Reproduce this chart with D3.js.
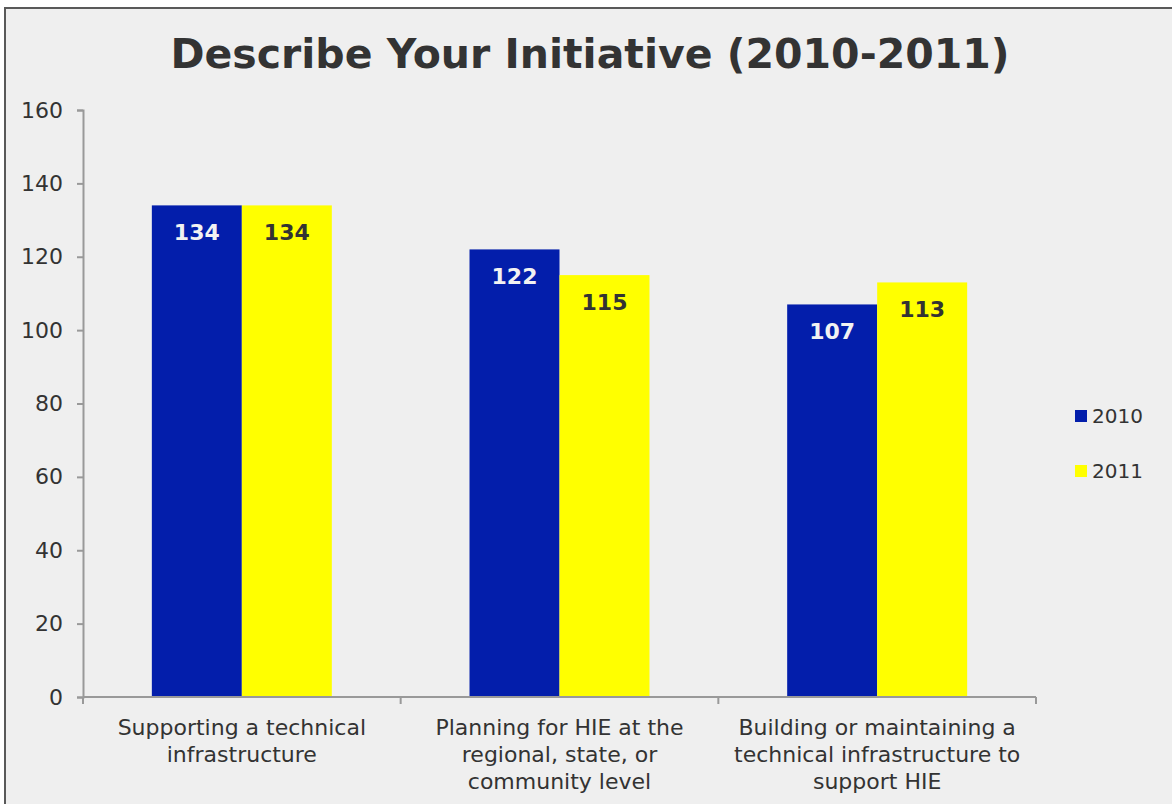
<!DOCTYPE html>
<html><head><meta charset="utf-8">
<script src="https://cdn.jsdelivr.net/npm/d3@7"></script>
<style>html,body{margin:0;padding:0;background:#fff;}svg{display:block;font-family:"DejaVu Sans",Verdana,sans-serif;}</style>
</head><body>
<svg id="c" width="1172" height="804"></svg>
<script>
const categories = [
  ["Supporting a technical", "infrastructure"],
  ["Planning for HIE at the", "regional, state, or", "community level"],
  ["Building or maintaining a", "technical infrastructure to", "support HIE"]
];
const seriesNames = ["2010", "2011"];
const values2010 = [134, 122, 107];
const values2011 = [134, 115, 113];
const yTicks = [0, 20, 40, 60, 80, 100, 120, 140, 160];
const colors = ["#031EAB", "#FFFF00"];
const labelColors = ["#F2F2F2", "#333333"];

const svg = d3.select("#c");
svg.append("rect").attr("x", 0).attr("y", 0).attr("width", 1172).attr("height", 804).attr("fill", "#ffffff");
svg.append("rect").attr("x", 5).attr("y", 8).attr("width", 1170).attr("height", 810)
  .attr("fill", "#efefef").attr("stroke", "#595959").attr("stroke-width", 2);

svg.append("text").attr("x", 590).attr("y", 68).attr("text-anchor", "middle")
  .attr("font-size", 41).attr("font-weight", "bold").attr("fill", "#333")
  .text("Describe Your Initiative (2010-2011)");

const x0 = 83, x1 = 1036, yTop = 110, yBot = 697;
const idx = categories.map((d, i) => i);
const x = d3.scaleBand().domain(idx).range([x0, x1]).paddingInner(0).paddingOuter(0);
const xs = d3.scaleBand().domain(seriesNames).range([0, x.bandwidth()]).paddingInner(0).paddingOuter(0.765);
const y = d3.scaleLinear().domain([0, 160]).range([yBot, yTop]);

const axisColor = "#999";
// y axis
const gy = svg.append("g").attr("transform", `translate(${x0},0)`)
  .call(d3.axisLeft(y).tickValues(yTicks).tickSize(6).tickPadding(14));
gy.select(".domain").attr("stroke", axisColor).attr("stroke-width", 2);
gy.selectAll(".tick line").attr("stroke", axisColor).attr("stroke-width", 2);
gy.selectAll(".tick text").attr("font-size", 22).attr("fill", "#333").attr("font-family", "DejaVu Sans, Verdana, sans-serif");

// bars
const series = [values2010, values2011];
series.forEach((vals, s) => {
  const g = svg.append("g");
  g.selectAll("rect").data(vals).join("rect")
    .attr("x", (d, i) => x(i) + xs(seriesNames[s]))
    .attr("y", d => y(d))
    .attr("width", xs.bandwidth())
    .attr("height", d => yBot - y(d))
    .attr("fill", colors[s]);
  g.selectAll("text").data(vals).join("text")
    .attr("x", (d, i) => x(i) + xs(seriesNames[s]) + xs.bandwidth() / 2)
    .attr("y", d => y(d) + 35)
    .attr("text-anchor", "middle")
    .attr("font-size", 22).attr("font-weight", "bold")
    .attr("fill", labelColors[s])
    .text(d => d);
});

// x axis
const gx = svg.append("g").attr("transform", `translate(0,${yBot})`);
gx.append("line").attr("x1", x0).attr("x2", x1).attr("y1", 0).attr("y2", 0).attr("stroke", axisColor).attr("stroke-width", 2);
const bounds = idx.map(i => x(i)).concat([x1]);
gx.selectAll("line.tk").data(bounds).join("line").attr("class", "tk")
  .attr("x1", d => d).attr("x2", d => d).attr("y1", 0).attr("y2", 7)
  .attr("stroke", axisColor).attr("stroke-width", 2);
const lab = gx.selectAll("text.cat").data(categories).join("text").attr("class", "cat")
  .attr("text-anchor", "middle").attr("font-size", 22).attr("fill", "#333");
lab.each(function(lines, i) {
  d3.select(this).selectAll("tspan").data(lines).join("tspan")
    .attr("x", x(i) + x.bandwidth() / 2)
    .attr("y", (d, k) => 38 + k * 27)
    .text(d => d);
});

// legend
const lg = svg.append("g").attr("transform", "translate(1075,410)");
seriesNames.forEach((n, i) => {
  lg.append("rect").attr("x", 0).attr("y", i * 55).attr("width", 12).attr("height", 12).attr("fill", colors[i]);
  lg.append("text").attr("x", 17).attr("y", i * 55 + 13).attr("font-size", 20).attr("fill", "#333").text(n);
});
</script>
</body></html>
